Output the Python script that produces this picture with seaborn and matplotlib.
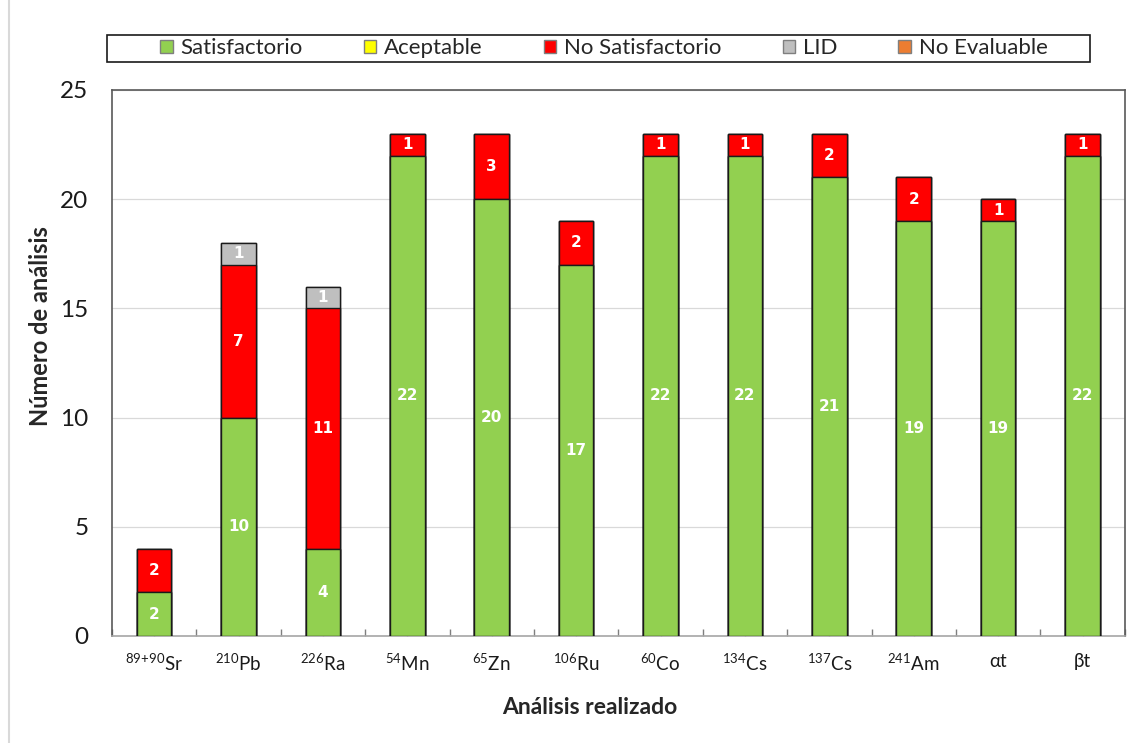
import matplotlib
matplotlib.use("Agg")
import matplotlib.pyplot as plt
import seaborn as sns
import numpy as np
import pandas as pd
from matplotlib.patches import Rectangle, Patch
from matplotlib.lines import Line2D

categories = [r"$^{89\!+\!90}$Sr", r"$^{210}$Pb", r"$^{226}$Ra", r"$^{54}$Mn", r"$^{65}$Zn",
              r"$^{106}$Ru", r"$^{60}$Co", r"$^{134}$Cs", r"$^{137}$Cs", r"$^{241}$Am",
              "αt", "βt"]
satisfactorio = [2, 10, 4, 22, 20, 17, 22, 22, 21, 19, 19, 22]
aceptable = [0, 0, 0, 0, 0, 0, 0, 0, 0, 0, 0, 0]
no_satisfactorio = [2, 7, 11, 1, 3, 2, 1, 1, 2, 2, 1, 1]
lid = [0, 1, 1, 0, 0, 0, 0, 0, 0, 0, 0, 0]
no_evaluable = [0, 0, 0, 0, 0, 0, 0, 0, 0, 0, 0, 0]

series_names = ["Satisfactorio", "Aceptable", "No Satisfactorio", "LID", "No Evaluable"]
series_vals = [satisfactorio, aceptable, no_satisfactorio, lid, no_evaluable]
colors = ["#92D050", "#FFFF00", "#FF0000", "#BFBFBF", "#ED7D31"]

sns.set_theme(style="white")
plt.rcParams["font.family"] = ["Lato", "DejaVu Sans"]
plt.rcParams["mathtext.fontset"] = "custom"
plt.rcParams["mathtext.rm"] = "Lato"
plt.rcParams["mathtext.it"] = "Lato:italic"
plt.rcParams["mathtext.bf"] = "Lato:bold"

fig = plt.figure(figsize=(11.31, 7.43), dpi=100)
ax = fig.add_axes([112 / 1131, 1 - 636 / 743, (1124.7 - 112) / 1131, (636 - 90) / 743])

arr = np.array(series_vals, dtype=float)
cum = np.cumsum(arr, axis=0)
df = pd.DataFrame({"cat": categories})
# draw cumulative bars from top series down so lower ones overlay
for k in range(len(series_names) - 1, -1, -1):
    d = df.copy()
    d["val"] = cum[k]
    sns.barplot(data=d, x="cat", y="val", order=categories, color=colors[k],
                saturation=1, width=0.41, edgecolor="#1a1a1a", linewidth=1.0,
                errorbar=None, ax=ax, zorder=3)

# value labels
for k in range(len(series_names)):
    for i, v in enumerate(arr[k]):
        if v > 0:
            bottom = cum[k][i] - v
            ax.text(i, bottom + v / 2, f"{int(v)}", ha="center", va="center",
                    color="white", fontsize=11, fontweight="bold", zorder=5,
                    family="DejaVu Sans")

ax.set_xlim(-0.5, len(categories) - 0.5)
ax.set_ylim(0, 25)
ax.set_yticks([0, 5, 10, 15, 20, 25])
ax.yaxis.grid(True, color="#d9d9d9", linewidth=0.9, zorder=0)
ax.set_axisbelow(True)

ax.tick_params(axis="y", length=0, pad=17, labelsize=17.5, colors="#1a1a1a")
ax.set_xticks(range(len(categories)))
ax.set_xticklabels(categories)
ax.set_xticks(np.arange(-0.5, len(categories), 1.0), minor=True)
ax.tick_params(axis="x", which="both", direction="in", length=4, width=1,
               color="#7f7f7f", pad=12, labelsize=13.5, labelcolor="#1a1a1a", bottom=True)
ax.tick_params(axis="x", which="minor", length=5)

for s in ["left", "top", "right"]:
    ax.spines[s].set_visible(True)
    ax.spines[s].set_color("#595959")
    ax.spines[s].set_linewidth(1.2)
ax.spines["bottom"].set_color("#a6a6a6")
ax.spines["bottom"].set_linewidth(1.2)

ax.set_ylabel("Número de análisis", fontsize=17, fontweight="bold")
ax.set_xlabel("Análisis realizado", fontsize=16.5, fontweight="bold")
ax.yaxis.set_label_coords((52 - 112) / 1012.7, (636 - 326) / 546)
ax.xaxis.set_label_coords((589.5 - 112) / 1012.7, (636 - 697) / 546)

# legend
handles = [Patch(facecolor=c, edgecolor="#7f7f7f", linewidth=1) for c in colors]
leg = fig.legend(handles, series_names, loc="center", ncol=5,
                 bbox_to_anchor=(604 / 1131, 1 - 48.5 / 743), frameon=False,
                 fontsize=16, handlelength=0.55, handleheight=0.55,
                 handletextpad=0.36, columnspacing=2.75)
fig.patches.append(Rectangle((107 / 1131, 1 - 62 / 743), 983 / 1131, 27 / 743,
                             transform=fig.transFigure, fill=False,
                             edgecolor="#1a1a1a", linewidth=1.2))
fig.add_artist(Line2D([9 / 1131, 9 / 1131], [0, 1], transform=fig.transFigure,
                      color="#d9d9d9", linewidth=1.5))

fig.savefig("out.png", dpi=100)
